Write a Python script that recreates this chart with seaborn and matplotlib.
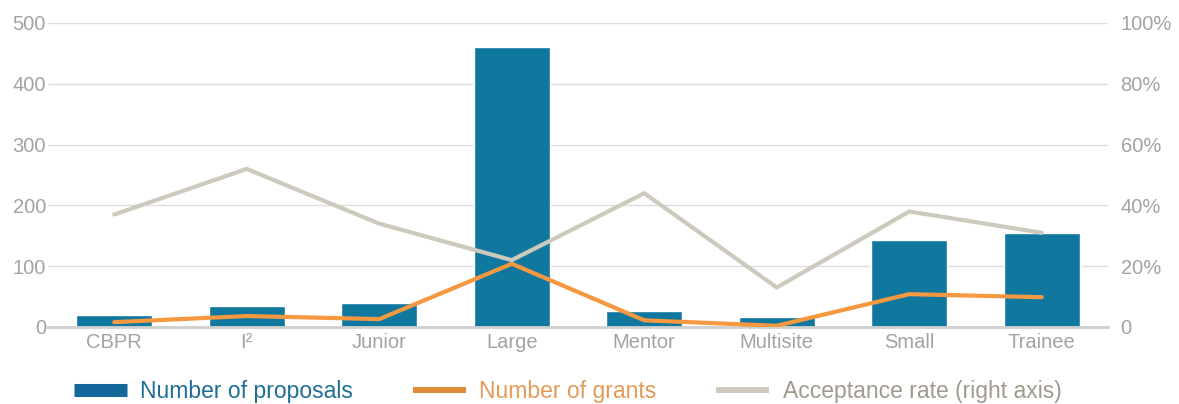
import matplotlib
matplotlib.use("Agg")
import pandas as pd
import matplotlib.pyplot as plt
import seaborn as sns
from matplotlib.lines import Line2D

# Data
categories = ["CBPR", "I²", "Junior", "Large", "Mentor", "Multisite", "Small", "Trainee"]
proposals = [20, 35, 40, 460, 26, 16, 143, 155]
grants = [8, 18, 13, 104, 11, 2, 54, 49]
acceptance = [37, 52, 34, 22, 44, 13, 38, 31]  # percent

ds = pd.DataFrame({"Program": categories, "Proposals": proposals,
                   "Grants": grants, "Rate": acceptance})

BLUE = "#10779f"
ORANGE = "#f5983f"
GREY = "#cdc9bd"
TICK = "#a3a3a3"

sns.set_style("white")
plt.rcParams["font.family"] = ["Liberation Sans", "DejaVu Sans"]

fig = plt.figure(figsize=(11.79, 4.04), dpi=100)
ax = fig.add_axes([48 / 1179, 77 / 404, 1060 / 1179, 304 / 404])

# bars + grants on the left axis, acceptance rate on the right axis (drawn on top)
sns.barplot(data=ds, x="Program", y="Proposals", color=BLUE, width=0.57,
            saturation=1, ax=ax, zorder=2)
ax.plot(ds["Program"], ds["Grants"], color=ORANGE, lw=3, zorder=4,
        solid_joinstyle="miter")

ax2 = ax.twinx()
ax2.plot(ds["Program"], ds["Rate"], color=GREY, lw=3, zorder=3,
         solid_joinstyle="miter")

ax.set_xlim(-0.5, 7.5)
ax.set_ylim(0, 500)
ax2.set_ylim(0, 100)
ax.set_yticks(range(0, 501, 100))
ax2.set_yticks(range(0, 101, 20))
ax2.set_yticklabels(["0"] + [f"{v}%" for v in range(20, 101, 20)])

ax.yaxis.grid(True, color="#dedede", lw=1, zorder=0)
ax.set_axisbelow(True)
for a in (ax, ax2):
    for s in a.spines.values():
        s.set_visible(False)
    a.tick_params(length=0, colors=TICK, labelsize=14.5)
ax.spines["bottom"].set_visible(True)
ax.spines["bottom"].set_color("#cfcfcf")
ax.spines["bottom"].set_linewidth(2)
ax.tick_params(axis="y", pad=1.5)
ax.tick_params(axis="x", pad=4)
ax2.tick_params(axis="y", pad=9)
ax.set_xlabel("")
ax.set_ylabel("")
ax2.set_ylabel("")

handles = [
    Line2D([], [], color="#13679a", lw=9.4, solid_capstyle="butt"),
    Line2D([], [], color="#de8a37", lw=4.3, solid_capstyle="butt"),
    Line2D([], [], color=GREY, lw=4.3, solid_capstyle="butt"),
]
labels = ["Number of proposals", "Number of grants", "Acceptance rate (right axis)"]
fig.legend(handles, labels, loc="center left", bbox_to_anchor=(74 / 1179, 1 - 391.5 / 404),
           ncol=3, frameon=False, fontsize=16.5, handlelength=2.3, handletextpad=0.6,
           columnspacing=2.6, borderaxespad=0, borderpad=0,
           labelcolor=["#1f6f95", "#e59a55", "#a09a8e"])

fig.savefig("out.png", dpi=100)
